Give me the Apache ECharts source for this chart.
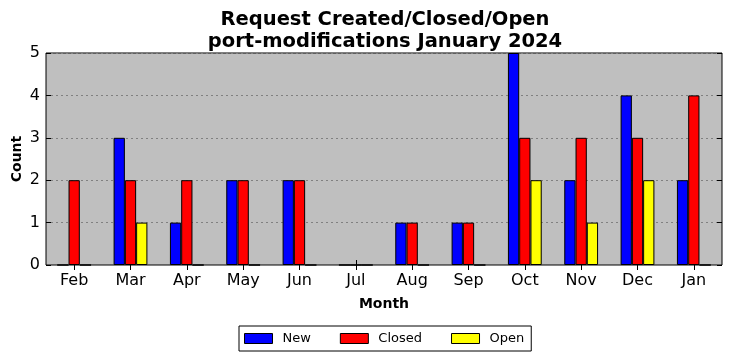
<!DOCTYPE html>
<html><head><meta charset="utf-8">
<script src="https://cdn.jsdelivr.net/npm/echarts@6/dist/echarts.min.js"></script>
<style>html,body{margin:0;padding:0;background:#fff}#c{width:732px;height:361px}</style>
</head><body><div id="c"></div>
<script>
const months = ['Feb','Mar','Apr','May','Jun','Jul','Aug','Sep','Oct','Nov','Dec','Jan'];
const newVals =    [0,3,1,2,2,0,1,1,5,2,4,2];
const closedVals = [2,2,2,2,2,0,1,1,3,3,3,4];
const openVals =   [0,1,0,0,0,0,0,0,2,1,2,0];
const yTicks = [0,1,2,3,4,5];

const font = 'DejaVu Sans';
const chart = echarts.init(document.getElementById('c'));
function bar(name, data, color){
  return {name, type:'bar', data, barWidth:'20%', barGap:'0%',
    itemStyle:{color, borderColor:'#000', borderWidth:1}};
}
chart.setOption({
  animation:false,
  textStyle:{fontFamily:font},
  title:{text:'Request Created/Closed/Open\nport-modifications January 2024', left:380, textAlign:'center', top:4,
    textStyle:{fontFamily:font, fontSize:19.5, fontWeight:'bold', color:'#000', lineHeight:22}},
  grid:{left:46, right:10, top:53, bottom:96, containLabel:false, outerBoundsMode:'none', show:true, backgroundColor:'#bfbfbf', borderColor:'#000', borderWidth:1},
  legend:{top:326, left:239, itemWidth:28, itemHeight:10, itemGap:29,
    borderColor:'#000', borderWidth:1, borderRadius:0, padding:[6,7,6,5],
    textStyle:{fontFamily:font, fontSize:13, color:'#000', padding:[0,0,0,5]},
    data:[{name:'New', icon:'rect'},{name:'Closed', icon:'rect'},{name:'Open', icon:'rect'}],
    itemStyle:{borderColor:'#000', borderWidth:1}},
  xAxis:[{type:'category', data:months, name:'Month', nameLocation:'middle', nameGap:32, nameMoveOverlap:false,
    nameTextStyle:{fontFamily:font, fontSize:14, fontWeight:'bold', color:'#000'},
    axisLine:{show:false}, axisTick:{show:true, inside:true, alignWithLabel:true, length:5, lineStyle:{color:'#000'}},
    axisLabel:{fontFamily:font, fontSize:16, color:'#000', margin:8, interval:0}},
   {type:'category', data:months, position:'top', axisLine:{show:false}, axisLabel:{show:false},
    axisTick:{show:true, inside:true, alignWithLabel:true, length:5, lineStyle:{color:'#000'}}}],
  yAxis:[{type:'value', min:yTicks[0], max:yTicks[yTicks.length-1], interval:1, name:'Count', nameLocation:'middle', nameGap:22, nameMoveOverlap:false,
    nameTextStyle:{fontFamily:font, fontSize:14, fontWeight:'bold', color:'#000'},
    axisLine:{show:false}, axisTick:{show:true, inside:true, length:5, lineStyle:{color:'#000'}},
    axisLabel:{fontFamily:font, fontSize:16, color:'#000', margin:6},
    splitLine:{show:true, lineStyle:{color:'#808080', type:[2,3], width:1}}},
   {type:'value', min:0, max:5, interval:1, position:'right', axisLine:{show:false}, axisLabel:{show:false},
    axisTick:{show:true, inside:true, length:5, lineStyle:{color:'#000'}}, splitLine:{show:false}}],
  series:[bar('New', newVals, '#0000ff'), bar('Closed', closedVals, '#ff0000'), bar('Open', openVals, '#ffff00')]
});
</script></body></html>
